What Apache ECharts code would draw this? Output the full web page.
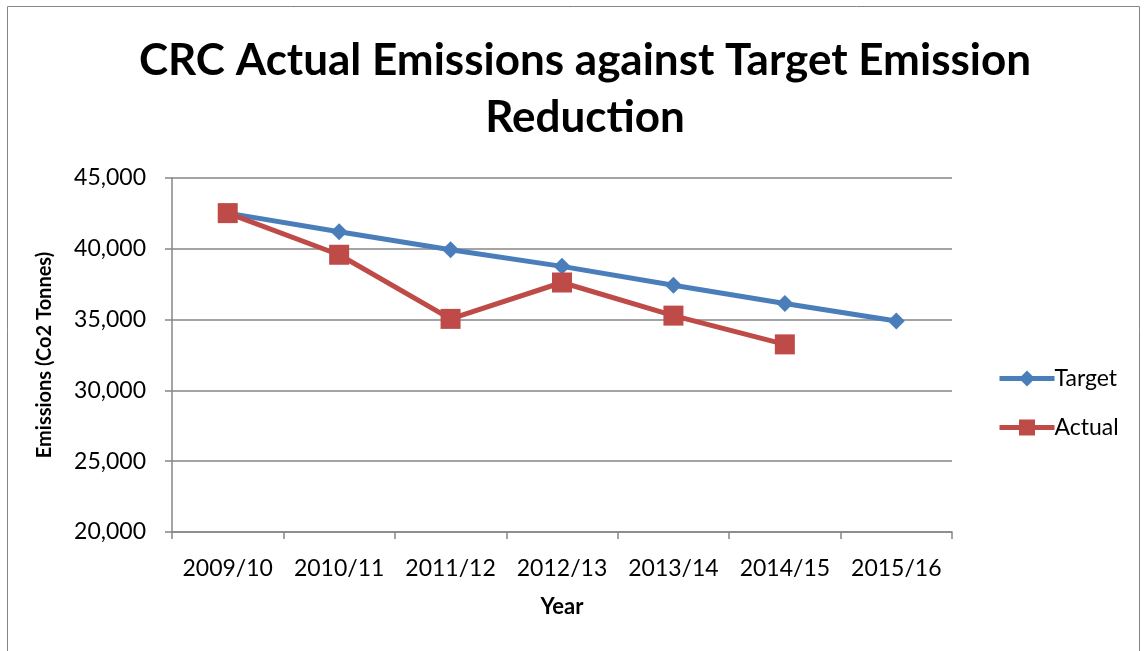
<!DOCTYPE html>
<html><head><meta charset="utf-8">
<script src="https://cdn.jsdelivr.net/npm/echarts@6/dist/echarts.min.js"></script>
<style>html,body{margin:0;padding:0;background:#fff}#c{width:1146px;height:651px}</style>
</head><body><div id="c"></div>
<script>
const categories = ['2009/10','2010/11','2011/12','2012/13','2013/14','2014/15','2015/16'];
const targetValues = [42520, 41210, 39930, 38760, 37430, 36140, 34900];
const actualValues = [42520, 39580, 35050, 37620, 35280, 33250, null];
const yTicks = {min: 20000, max: 45000, interval: 5000};

const chart = echarts.init(document.getElementById('c'));
const font = 'Lato, "Open Sans", sans-serif';
chart.setOption({
  animation: false,
  backgroundColor: '#fff',
  graphic: [{type:'rect', shape:{x:7.5,y:6.5,width:1132,height:700}, style:{fill:'none', stroke:'#868686', lineWidth:1}}],
  title: {
    text: 'CRC Actual Emissions against Target Emission\nReduction',
    left: 580, textAlign: 'center', top: 27,
    textStyle: {fontFamily: font, fontWeight: 'bold', fontSize: 44, lineHeight: 57, color: '#000'}
  },
  legend: {
    orient: 'vertical', left: 992, top: 362, itemGap: 26,
    itemWidth: 55, itemHeight: 20,
    textStyle: {fontFamily: font, fontSize: 23, color: '#000', padding:[0,0,0,-5]},
    data: [
      {name: 'Target', lineStyle: {width: 5}},
      {name: 'Actual', lineStyle: {width: 5}}
    ]
  },
  grid: {left: 172, right: 194, top: 178, bottom: 119},
  xAxis: {
    type: 'category', data: categories, boundaryGap: true,
    name: 'Year', nameLocation: 'middle', nameGap: 64,
    nameTextStyle: {fontFamily: font, fontWeight: 'bold', fontSize: 22, color: '#000'},
    axisLine: {lineStyle: {color: '#868686', width: 1.5}},
    axisTick: {show: true, interval: 0, length: 7, lineStyle: {color: '#868686', width: 1.5}},
    axisLabel: {interval: 0, fontFamily: font, fontSize: 23, color: '#000', margin: 25}
  },
  yAxis: {
    type: 'value', min: yTicks.min, max: yTicks.max, interval: yTicks.interval,
    name: 'Emissions (Co2 Tonnes)', nameLocation: 'middle', nameGap: 117,
    nameTextStyle: {fontFamily: font, fontWeight: 'bold', fontSize: 20, color: '#000'},
    axisLine: {show: true, lineStyle: {color: '#868686', width: 1.5}},
    axisTick: {show: true, length: 7, lineStyle: {color: '#868686', width: 1.5}},
    splitLine: {lineStyle: {color: '#868686', width: 1.5}},
    axisLabel: {fontFamily: font, fontSize: 23, color: '#000', margin: 26,
      formatter: v => v.toLocaleString('en-US')}
  },
  series: [
    {name: 'Target', type: 'line', data: targetValues, symbol: 'diamond', symbolSize: 17,
     itemStyle: {color: '#4a7ebb'}, lineStyle: {width: 5, color: '#4a7ebb'}, z: 2},
    {name: 'Actual', type: 'line', data: actualValues, symbol: 'rect', symbolSize: 20,
     itemStyle: {color: '#be4b48'}, lineStyle: {width: 5, color: '#be4b48'}, z: 3}
  ]
});
</script></body></html>
